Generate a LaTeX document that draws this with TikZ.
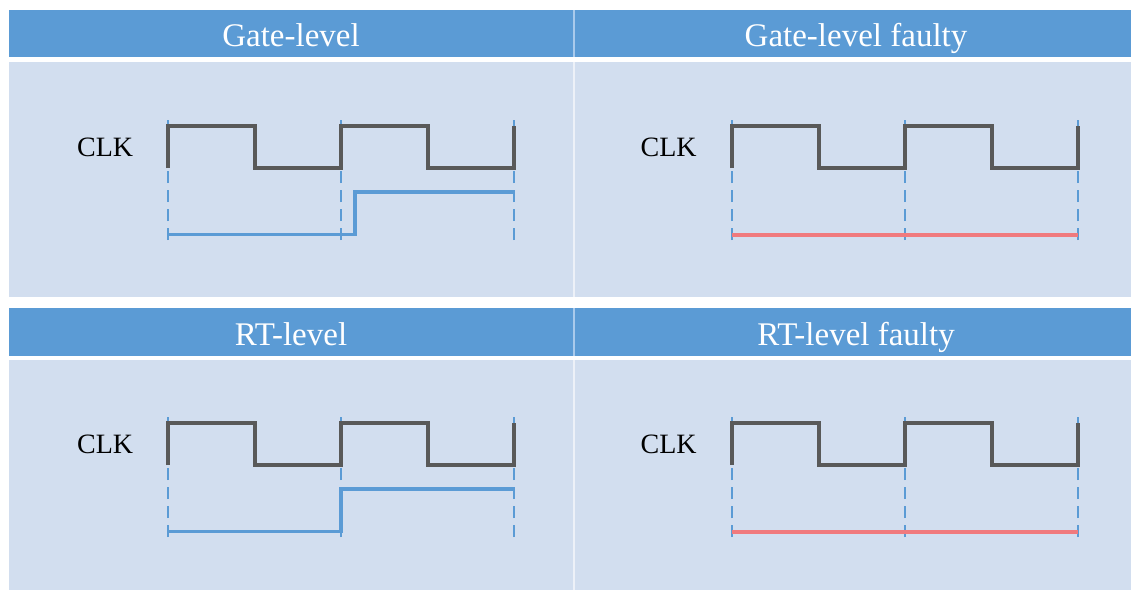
\documentclass[tikz,border=0pt]{standalone}
\usepackage{fontspec}
\setmainfont{Liberation Serif}
\definecolor{headblue}{HTML}{5B9BD5}
\definecolor{bodyblue}{HTML}{D2DEEF}
\definecolor{headseam}{HTML}{A9CAEC}
\definecolor{bodyseam}{HTML}{EDF1F8}
\definecolor{clkgray}{HTML}{595959}
\definecolor{sigblue}{HTML}{5B9BD5}
\definecolor{faultred}{HTML}{F07A7E}

% clock trace with its three dashed edge guides, in panel coordinates
\newcommand{\clocktrace}{%
  \foreach \gx in {168,341,514} \draw[guide] (\gx,240) -- (\gx,120);
  \draw[clkwave] (168,168) -- (168,125.5) -- (255,125.5) -- (255,168)
    -- (341,168) -- (341,125.5) -- (428,125.5) -- (428,168)
    -- (514,168) -- (514,125.5);
}

\begin{document}
\begin{tikzpicture}[x=1pt,y=-1pt,
  head/.style={fill=headblue},
  cell/.style={fill=bodyblue},
  title/.style={text=white, font=\fontsize{33}{36}\selectfont, anchor=base, inner sep=0pt},
  clklabel/.style={font=\fontsize{28}{30}\selectfont, anchor=base west, inner sep=0pt},
  clkwave/.style={draw=clkgray, line width=4pt},
  sigwave/.style={draw=sigblue, line width=3.8pt},
  faultwave/.style={draw=faultred, line width=4pt},
  guide/.style={draw=sigblue, line width=2pt, dash pattern=on 12pt off 7pt}
]
\useasboundingbox (0,0) rectangle (1131,590);
\fill[white] (0,0) rectangle (1131,590);

% table grid: header bands and body cells
\fill[headseam] (573,10) rectangle (575,57);
\fill[headseam] (573,308) rectangle (575,356);
\fill[bodyseam] (573,62) rectangle (575,297);
\fill[bodyseam] (573,360) rectangle (575,590);
\fill[head] (9,10) rectangle (573,57);
\fill[head] (575,10) rectangle (1131,57);
\fill[cell] (9,62) rectangle (573,297);
\fill[cell] (575,62) rectangle (1131,297);
\fill[head] (9,308) rectangle (573,356);
\fill[head] (575,308) rectangle (1131,356);
\fill[cell] (9,360) rectangle (573,590);
\fill[cell] (575,360) rectangle (1131,590);

% column titles
\node[title] (tGate) at (291,46.5) {Gate-level};
\node[title] (tGateF) at (856,46.5) {Gate-level faulty};
\node[title] (tRT) at (291,345) {RT-level};
\node[title] (tRTF) at (856,345) {RT-level faulty};

% gate-level panel
\node[clklabel] (clkA) at (77,156) {CLK};
\clocktrace
\draw[sigwave] (168,234.5) -- (355,234.5) -- (355,192) -- (514,192);

% gate-level faulty panel
\begin{scope}[shift={(563.5,0)}]
  \node[clklabel] (clkB) at (77,156) {CLK};
  \clocktrace
  \draw[faultwave] (168,234.5) -- (514,234.5);
\end{scope}

% RT-level panel
\begin{scope}[shift={(0,297)}]
  \node[clklabel] (clkC) at (77,156) {CLK};
  \clocktrace
  \draw[sigwave] (168,234.5) -- (341,234.5) -- (341,192) -- (514,192);
\end{scope}

% RT-level faulty panel
\begin{scope}[shift={(563.5,297)}]
  \node[clklabel] (clkD) at (77,156) {CLK};
  \clocktrace
  \draw[faultwave] (168,234.5) -- (514,234.5);
\end{scope}
\end{tikzpicture}
\end{document}
